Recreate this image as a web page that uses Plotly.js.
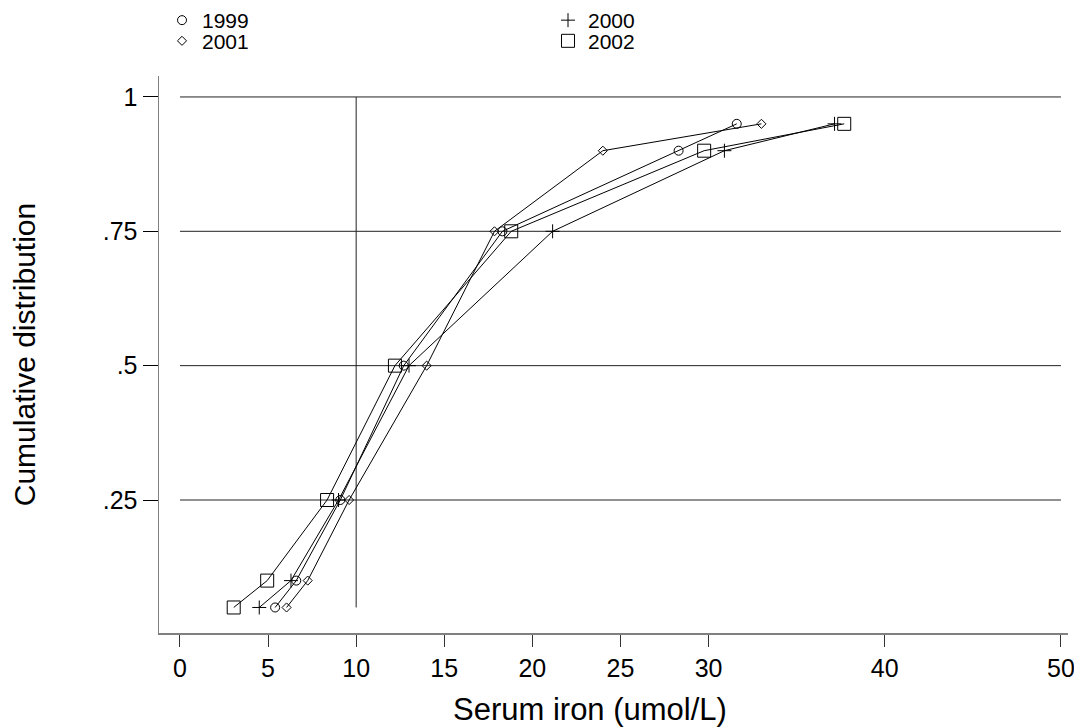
<!DOCTYPE html>
<html>
<head>
<meta charset="utf-8">
<script src="https://cdn.plot.ly/plotly-3.0.1.min.js"></script>
<style>html,body{margin:0;padding:0;background:#fff;}#chart{width:1074px;height:728px;}</style>
</head>
<body>
<div id="chart"></div>
<script>
// Cumulative distribution levels (quantile probabilities)
const probs = [0.05, 0.10, 0.25, 0.50, 0.75, 0.90, 0.95];
// Serum iron quantiles by year (umol/L)
const iron1999 = [5.4, 6.6, 9.1, 12.7, 18.3, 28.3, 31.6];
const iron2000 = [4.5, 6.3, 9.0, 13.0, 21.15, 30.9, 37.15];
const iron2001 = [6.05, 7.25, 9.6, 14.0, 17.85, 24.0, 33.0];
const iron2002 = [3.05, 4.95, 8.35, 12.2, 18.8, 29.75, 37.7];
const years = ['1999', '2000', '2001', '2002'];
const xTicks = [0, 5, 10, 15, 20, 25, 30, 40, 50];
const yTicks = [0.25, 0.5, 0.75, 1];
const yTickText = ['.25', '.5', '.75', '1'];
const refX = 10;
const xTitle = 'Serum iron (umol/L)';
const yTitle = 'Cumulative distribution';

const font = 'Liberation Sans, Arial, sans-serif';
const series = [iron1999, iron2000, iron2001, iron2002];
const symbols = ['circle-open', 'cross-thin-open', 'diamond-open', 'square-open'];
const sizes = [9, 10, 7, 13];
const legends = ['legend', 'legend', 'legend2', 'legend2'];

const traces = [];
series.forEach((vals, i) => {
  traces.push({
    x: vals, y: probs, name: years[i], type: 'scatter', mode: 'lines',
    line: {color: '#000', width: 1}, showlegend: false, hoverinfo: 'skip'
  });
});
series.forEach((vals, i) => {
  traces.push({
    x: vals, y: probs, name: years[i], type: 'scatter', mode: 'markers',
    marker: {symbol: symbols[i], size: sizes[i], color: '#000', line: {color: '#000', width: 1}},
    legend: legends[i], cliponaxis: false
  });
});

const shapes = yTicks.map(v => ({
  type: 'line', xref: 'x', yref: 'y', x0: xTicks[0], x1: xTicks[xTicks.length - 1], y0: v, y1: v,
  line: {color: '#222', width: 1}, layer: 'below'
}));
shapes.push({type: 'line', xref: 'x', yref: 'y', x0: refX, x1: refX, y0: probs[0], y1: 1,
  line: {color: '#222', width: 1}, layer: 'below'});

const legendBase = {orientation: 'h', xref: 'container', yref: 'container', xanchor: 'left', yanchor: 'top',
  font: {family: font, size: 21, color: '#000'}, entrywidth: 341, entrywidthmode: 'pixels',
  bgcolor: 'rgba(0,0,0,0)', itemwidth: 30, traceorder: 'normal', x: 162 / 1074};

const layout = {
  width: 1074, height: 728,
  margin: {l: 159, r: 6, t: 76, b: 95},
  paper_bgcolor: '#fff', plot_bgcolor: '#fff',
  font: {family: font, size: 22, color: '#000'},
  showlegend: true,
  legend: Object.assign({}, legendBase, {y: 1.0}),
  legend2: Object.assign({}, legendBase, {y: 0.9716}),
  xaxis: {
    range: [-1.19, 50.4], tickmode: 'array', tickvals: xTicks, ticktext: xTicks.map(String),
    showgrid: false, zeroline: false, showline: true, linecolor: '#808080', linewidth: 1.5,
    ticks: 'outside', ticklen: 12, tickcolor: '#333', tickwidth: 1, ticklabeloverflow: 'allow',
    tickfont: {family: font, size: 25, color: '#000'}
  },
  yaxis: {
    range: [0.0025, 1.039], tickmode: 'array', tickvals: yTicks, ticktext: yTickText,
    showgrid: false, zeroline: false, showline: true, linecolor: '#808080', linewidth: 1.5,
    ticks: 'outside', ticklen: 15, tickcolor: '#000', tickwidth: 1,
    tickfont: {family: font, size: 25, color: '#000'},
    title: {text: yTitle, font: {family: font, size: 30, color: '#000'}, standoff: 58}
  },
  annotations: [{
    text: xTitle, xref: 'paper', yref: 'paper', x: (590 - 159) / 909, y: -(709 - 633) / 557,
    xanchor: 'center', yanchor: 'middle', showarrow: false,
    font: {family: font, size: 31, color: '#000'}
  }],
  shapes: shapes
};

Plotly.newPlot('chart', traces, layout, {displayModeBar: false, staticPlot: true});
</script>
</body>
</html>
